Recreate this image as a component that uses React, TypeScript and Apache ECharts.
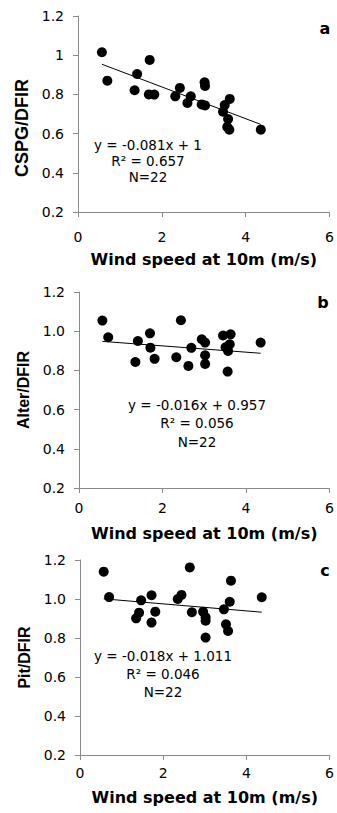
import React, { useEffect, useRef } from "react";
import * as echarts from "echarts";

// Panel a: CSPG/DFIR
const windA = [0.57, 0.70, 1.41, 1.35, 1.71, 1.69, 1.82, 2.32, 2.43, 2.69, 2.61, 2.95, 3.03, 3.02, 3.03, 3.46, 3.50, 3.62, 3.58, 3.56, 3.61, 4.36];
const cspgRatio = [1.015, 0.870, 0.904, 0.821, 0.976, 0.800, 0.799, 0.790, 0.833, 0.790, 0.756, 0.749, 0.744, 0.862, 0.843, 0.712, 0.746, 0.777, 0.674, 0.634, 0.620, 0.620];

// Panel b: Alter/DFIR
const windB = [0.56, 0.70, 1.41, 1.35, 1.70, 1.71, 1.81, 2.33, 2.44, 2.69, 2.62, 2.94, 3.02, 3.02, 3.02, 3.45, 3.51, 3.63, 3.61, 3.57, 3.56, 4.35];
const alterRatio = [1.054, 0.969, 0.950, 0.843, 0.989, 0.916, 0.859, 0.867, 1.056, 0.915, 0.823, 0.959, 0.942, 0.877, 0.833, 0.978, 0.918, 0.984, 0.933, 0.899, 0.794, 0.942];

// Panel c: Pit/DFIR
const windC = [0.57, 0.70, 1.47, 1.42, 1.35, 1.72, 1.72, 1.81, 2.35, 2.44, 2.64, 2.69, 2.96, 3.02, 3.02, 3.02, 3.46, 3.51, 3.56, 3.60, 3.63, 4.37];
const pitRatio = [1.140, 1.010, 0.993, 0.930, 0.901, 1.019, 0.879, 0.935, 1.000, 1.021, 1.162, 0.932, 0.935, 0.906, 0.889, 0.802, 0.947, 0.870, 0.836, 0.986, 1.094, 1.009];

// Regression results shown in the chart
const slopes = [-0.081, -0.016, -0.018];
const intercepts = [1, 0.957, 1.011];
const slopeText = ["-0.081", "-0.016", "-0.018"];
const interceptText = ["1", "0.957", "1.011"];
const r2Text = ["0.657", "0.056", "0.046"];
const nText = ["22", "22", "22"];

const yTitles = ["CSPG/DFIR", "Alter/DFIR", "Pit/DFIR"];
const panelLetters = ["a", "b", "c"];
const xTitle = "Wind speed at 10m (m/s)";

const FONT = "DejaVu Sans";
const ARIAL = "Liberation Sans";
const AXIS_GRAY = "#8a8a8a";

export default function App() {
  const ref = useRef<HTMLDivElement>(null);

  useEffect(() => {
    if (!ref.current) return;
    const chart = echarts.init(ref.current, undefined, { renderer: "svg" });

    const xs = [windA, windB, windC];
    const ys = [cspgRatio, alterRatio, pitRatio];

    const grids = [
      { left: 78, top: 16, width: 254, height: 196 },
      { left: 79, top: 292, width: 253, height: 196 },
      { left: 80, top: 560, width: 252, height: 195 },
    ];
    const xLabelMargin = [18, 13, 11];
    const xNameGap = [39, 37, 34];
    const yNameGap = [46, 47, 47];
    const yNameSize = [18, 16, 16];
    const yNamePadding = [
      [0, 28, 0, 0],
      [0, 0, 0, 0],
      [0, 0, 0, 0],
    ];

    const xAxis = grids.map((_, i) => ({
      type: "value",
      gridIndex: i,
      min: 0,
      max: 6,
      interval: 2,
      name: xTitle,
      nameLocation: "middle",
      nameGap: xNameGap[i],
      nameTextStyle: { fontFamily: FONT, fontWeight: "bold", fontSize: 16, color: "#000" },
      axisLine: { show: true, lineStyle: { color: AXIS_GRAY, width: 1 } },
      axisTick: { show: true, length: 5, lineStyle: { color: AXIS_GRAY } },
      axisLabel: { fontFamily: FONT, fontSize: 14, color: "#000", margin: xLabelMargin[i] },
      splitLine: { show: false },
    }));

    const yAxis = grids.map((_, i) => ({
      type: "value",
      gridIndex: i,
      min: 0.2,
      max: 1.2,
      interval: 0.2,
      name: yTitles[i],
      nameLocation: "middle",
      nameGap: yNameGap[i],
      nameTextStyle: {
        fontFamily: ARIAL,
        fontWeight: "bold",
        fontSize: yNameSize[i],
        color: "#000",
        padding: yNamePadding[i],
      },
      axisLine: { show: true, lineStyle: { color: AXIS_GRAY, width: 1 } },
      axisTick: { show: true, length: 5, lineStyle: { color: AXIS_GRAY } },
      axisLabel: {
        fontFamily: FONT,
        fontSize: 14,
        color: "#000",
        margin: 14,
        formatter: (v: number) => (i === 0 ? String(Math.round(v * 10) / 10) : v.toFixed(1)),
      },
      splitLine: { show: false },
    }));

    const series: any[] = [];
    xs.forEach((xv, i) => {
      series.push({
        type: "scatter",
        xAxisIndex: i,
        yAxisIndex: i,
        symbol: "circle",
        symbolSize: 10,
        itemStyle: { color: "#000", opacity: 1 },
        data: xv.map((x, k) => [x, ys[i][k]]),
        z: 3,
      });
      const x0 = Math.min(...xv);
      const x1 = Math.max(...xv);
      series.push({
        type: "line",
        xAxisIndex: i,
        yAxisIndex: i,
        symbol: "none",
        lineStyle: { color: "#000", width: 1 },
        data: [
          [x0, slopes[i] * x0 + intercepts[i]],
          [x1, slopes[i] * x1 + intercepts[i]],
        ],
        z: 2,
      });
    });

    const annotCenters = [
      { x: 148, y: [145, 161, 177] },
      { x: 197, y: [405, 423, 442] },
      { x: 163, y: [656, 674, 692] },
    ];
    const letterPos = [
      [325, 28],
      [323, 302],
      [325, 570],
    ];

    const graphic: any[] = [];
    annotCenters.forEach((c, i) => {
      const lines = [
        `y = ${slopeText[i]}x + ${interceptText[i]}`,
        `R² = ${r2Text[i]}`,
        `N=${nText[i]}`,
      ];
      lines.forEach((t, k) => {
        graphic.push({
          type: "text",
          x: c.x,
          y: c.y[k],
          style: {
            text: t,
            fontFamily: FONT,
            fontSize: 13.5,
            fill: "#000",
            align: "center",
            verticalAlign: "middle",
          },
        });
      });
      graphic.push({
        type: "text",
        x: letterPos[i][0],
        y: letterPos[i][1],
        style: {
          text: panelLetters[i],
          fontFamily: FONT,
          fontWeight: "bold",
          fontSize: 16,
          fill: "#000",
          align: "center",
          verticalAlign: "middle",
        },
      });
    });

    chart.setOption({
      animation: false,
      backgroundColor: "#fff",
      grid: grids,
      xAxis,
      yAxis,
      series,
      graphic,
    });

    return () => chart.dispose();
  }, []);

  return (
    <div
      ref={ref}
      style={{ position: "fixed", left: 0, top: 0, width: 337, height: 813, background: "#fff" }}
    />
  );
}
